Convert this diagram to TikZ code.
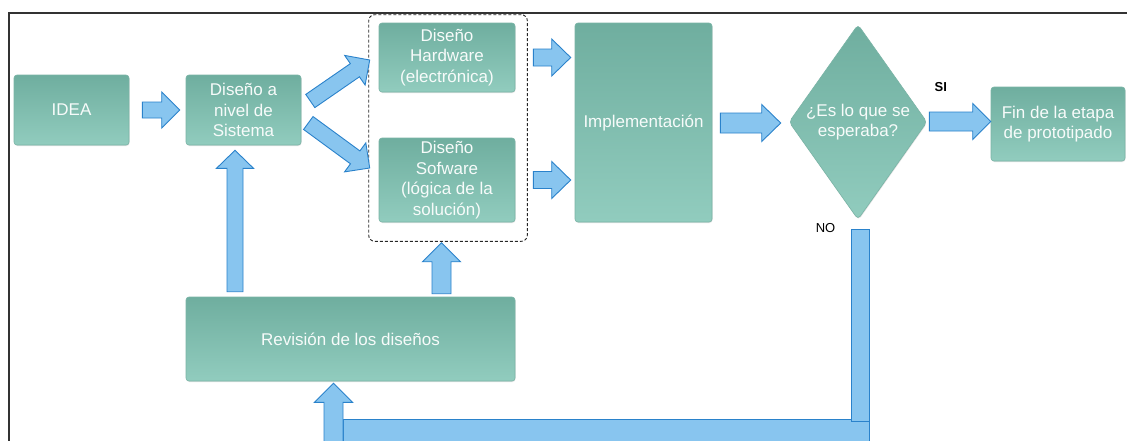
\documentclass[tikz,border=0pt]{standalone}
\usepackage{fontspec}
\setmainfont{Liberation Sans}
\usetikzlibrary{calc,shapes.geometric,fit,shadows}
\definecolor{tealtop}{HTML}{6FAE9F}
\definecolor{tealbot}{HTML}{91CCBE}
\definecolor{tealline}{HTML}{7AB4A6}
\definecolor{arrfill}{HTML}{88C5EF}
\definecolor{arrline}{HTML}{2A82CB}
\definecolor{txtwhite}{HTML}{F7FBFA}
\definecolor{framecol}{HTML}{333333}
\tikzset{
  box/.style={rectangle, rounded corners=3pt, top color=tealtop, bottom color=tealbot,
    draw=tealline, line width=0.6pt, text=txtwhite,
    font=\fontsize{17}{20.5}\selectfont, align=center, inner sep=0pt,
    drop shadow={shadow xshift=0.5pt, shadow yshift=-1pt, opacity=0.22}},
  decbox/.style={box, diamond, aspect=0.708, rounded corners=4pt},
  blockarr/.style={fill=arrfill, draw=arrline, line width=0.9pt, line join=miter},
  groupbox/.style={draw=black!85, dash pattern=on 3pt off 2pt, line width=0.9pt,
    rounded corners=6pt, inner sep=0pt},
  lbl/.style={text=black, font=\fontsize{13}{15}\selectfont, inner sep=0pt},
  frameline/.style={draw=framecol, line width=1.5pt}
}
% #1 start, #2 end (tip), #3 shaft half width, #4 head half width, #5 head length
\newcommand{\blockarrow}[5]{%
  \coordinate (bah) at ($(#2)!#5!(#1)$);
  \draw[blockarr] ($(#1)!#3!90:(#2)$) -- ($(bah)!#3!90:(#2)$) -- ($(bah)!#4!90:(#2)$)
    -- (#2) -- ($(bah)!#4!-90:(#2)$) -- ($(bah)!#3!-90:(#2)$) -- ($(#1)!#3!-90:(#2)$) -- cycle;
}
\begin{document}
\begin{tikzpicture}[x=1pt,y=-1pt]
\clip (0,0) rectangle (1127,440);
\path[use as bounding box] (0,0) rectangle (1127,440);
\fill[white] (0,0) rectangle (1127,440);
% frame (right and bottom edges lie outside the picture)
\draw[frameline] (9,13) rectangle (1150,470);

% nodes
\node[box, minimum width=115pt, minimum height=70pt] (idea) at (71.5,110) {IDEA};
\node[box, minimum width=115pt, minimum height=70pt] (sist) at (243.5,110) {Diseño a\\nivel de\\Sistema};
\node[box, minimum width=136pt, minimum height=69pt] (hw) at (447,57.5) {Diseño\\Hardware\\(electrónica)};
\node[box, minimum width=136pt, minimum height=84pt] (sw) at (447,180) {Diseño\\Sofware\\(lógica de la\\solución)};
\node[box, minimum width=137pt, minimum height=199pt] (impl) at (643.5,122.5) {Implementación};
\node[decbox, minimum width=138pt, minimum height=195pt] (dec) at (858,122) {¿Es lo que se\\esperaba?};
\node[box, minimum width=134pt, minimum height=74pt] (fin) at (1058,124) {Fin de la etapa\\de prototipado};
\node[box, minimum width=329pt, minimum height=84pt] (rev) at (350.5,339) {Revisión de los diseños};
\node[groupbox, fit={($(hw.north west)+(-10,-8)$) ($(sw.south east)+(12,19)$)}] (grp) {};

% labels
\node[lbl, font=\fontsize{13}{15}\bfseries] (si) at ($(dec.east)+(13.5,-34.5)$) {SI};
\node[lbl] (no) at ($(dec.south)+(-32.5,8.5)$) {NO};

% connector end points
\coordinate (a1s) at ($(idea.east)+(13,0)$);
\coordinate (a1e) at ($(sist.west)+(-6,0)$);
\coordinate (a2s) at ($(sist.east)+(9,-9)$);
\coordinate (a2e) at ($(hw.west)+(-9,2.5)$);
\coordinate (a3s) at ($(sist.east)+(7,13)$);
\coordinate (a3e) at ($(sw.west)+(-9,-12)$);
\coordinate (a4s) at ($(hw.east)+(18,0)$);
\coordinate (a4e) at ($(impl.west |- hw.east)+(-4,0)$);
\coordinate (a5s) at ($(sw.east)+(18,0)$);
\coordinate (a5e) at ($(impl.west |- sw.east)+(-4,0)$);
\coordinate (a6s) at ($(impl.east)+(8,0.5)$);
\coordinate (a6e) at ($(dec.west)+(-8,1)$);
\coordinate (a7s) at ($(dec.east)+(2,-0.5)$);
\coordinate (a7e) at (fin.west |- a7s);
\coordinate (a8s) at ($(sist.south |- rev.north)+(-8.5,-5)$);
\coordinate (a8e) at ($(sist.south)+(-8.5,5)$);
\coordinate (a9s) at ($(grp.south |- rev.north)+(-6.5,-3)$);
\coordinate (a9e) at ($(grp.south)+(-6.5,1)$);
\coordinate (a10e) at ($(rev.south)+(-17,2)$);
\coordinate (a10s) at ($(a10e)+(0,90)$);
\coordinate (nb1) at ($(dec.south)+(-7,10)$);
\coordinate (nb2) at ($(dec.south)+(11,202)$);
\coordinate (hb1) at ($(a10e)+(9.5,36)$);
\coordinate (hb2) at ($(nb2)+(0,49)$);

% block arrows
\blockarrow{a1s}{a1e}{8pt}{18pt}{18pt}
\blockarrow{a2s}{a2e}{8pt}{18pt}{18pt}
\blockarrow{a3s}{a3e}{8pt}{18pt}{18pt}
\blockarrow{a4s}{a4e}{8.5pt}{18.5pt}{19pt}
\blockarrow{a5s}{a5e}{8.5pt}{18.5pt}{19pt}
\blockarrow{a6s}{a6e}{10pt}{18.5pt}{19pt}
\blockarrow{a7s}{a7e}{9.5pt}{18pt}{18pt}
\blockarrow{a8s}{a8e}{8pt}{18.5pt}{18pt}
\blockarrow{a9s}{a9e}{9.5pt}{19pt}{19pt}

% feedback path (NO)
\draw[blockarr] (hb1) rectangle (hb2);
\draw[blockarr] (nb1) rectangle (nb2);
\blockarrow{a10s}{a10e}{9.5pt}{19pt}{19pt}
\end{tikzpicture}
\end{document}
